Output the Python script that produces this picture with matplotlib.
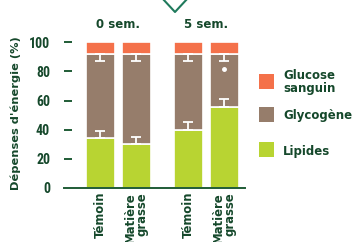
import matplotlib
matplotlib.use('Agg')
import matplotlib.pyplot as plt
from matplotlib.lines import Line2D
from matplotlib.patches import Rectangle
import numpy as np

# data
groups = ['0 sem.', '5 sem.']
bar_labels = ['Témoin', 'Matière\ngrasse', 'Témoin', 'Matière\ngrasse']
series = ['Lipides', 'Glycogène', 'Glucose\nsanguin']
lipides = [34, 30, 40, 55.5]
glycogene = [58, 62, 52, 36.5]
glucose = [8, 8, 8, 8]
err_lipides = [5, 5, 5, 5.5]
err_glycogene = [5, 5, 5, 5]
star_y = [None, None, None, 81.5]
yticks = [0, 20, 40, 60, 80, 100]

colors = ['#b8d432', '#967d6b', '#f4714a']
dark = '#15482b'
axis_col = '#1f5c36'
narrow = ['Roboto Condensed', 'Fira Sans Condensed', 'PT Sans Narrow',
          'Liberation Sans Narrow', 'DejaVu Sans']

plt.rcParams['font.family'] = ['DejaVu Sans']

fig = plt.figure(figsize=(3.55, 2.42), dpi=100)
ax = fig.add_axes([0.18, 0.224, 0.51, 0.613])

x = np.array([0, 1, 2.44, 3.44])
w = 0.81
bottom = np.zeros(4)
for vals, c, name in zip([lipides, glycogene, glucose], colors, series):
    ax.bar(x, vals, w, bottom=bottom, color=c, edgecolor='white', linewidth=1.2, label=name)
    bottom = bottom + np.array(vals)
bot2 = np.array(lipides)
bot3 = bot2 + np.array(glycogene)

# error bars: lipids upward, glycogen downward
ax.errorbar(x, bot2, yerr=[np.zeros(4), err_lipides], fmt='none', ecolor='white',
            elinewidth=1.3, capsize=3.3, capthick=1.3, zorder=5)
ax.errorbar(x, bot3, yerr=[err_glycogene, np.zeros(4)], fmt='none', ecolor='white',
            elinewidth=1.3, capsize=3.3, capthick=1.3, zorder=5)
for xi, sy in zip(x, star_y):
    if sy is not None:
        ax.plot(xi, sy, 'o', color='white', markersize=2.5, zorder=6)

ax.set_xlim(-1.008, 4.015)
ax.set_ylim(0, 102)
ax.set_yticks(yticks)
ax.set_yticklabels([str(v) for v in yticks], family=narrow, fontweight='bold',
                   fontsize=10, color=dark)
ax.tick_params(axis='y', direction='in', length=6, width=1.4, color=axis_col, pad=10)
ax.tick_params(axis='x', length=0, pad=3)
ax.set_xticks(x)
ax.set_xticklabels(bar_labels, rotation=90, fontweight='bold', fontsize=8.4, color=dark,
                   va='top', ha='center', multialignment='right', linespacing=0.85)
for s in ['top', 'right', 'left']:
    ax.spines[s].set_visible(False)
ax.spines['bottom'].set_color(axis_col)
ax.spines['bottom'].set_linewidth(1.4)
ax.yaxis.get_major_ticks()[0].tick1line.set_visible(False)

ax.set_ylabel("Dépenses d'énergie (%)", fontweight='bold', fontsize=8.2, color=dark, labelpad=6)

# group headers
for gx, g in zip([(x[0] + x[1]) / 2, (x[2] + x[3]) / 2], groups):
    ax.text(gx, 1.10, g, transform=ax.get_xaxis_transform(), ha='center', va='center',
            fontweight='bold', fontsize=8.5, color=dark)

# legend, drawn by hand so rows sit like the reference (top to bottom: glucose, glycogen, lipids)
W, H = 355, 242
sq_top = [142, 107, 74]
txt_y = [152, 116, 82.5]
for c, name, top, ty in zip(colors, series, sq_top, txt_y):
    fig.add_artist(Rectangle((259 / W, 1 - (top + 15) / H), 15 / W, 15 / H,
                             facecolor=c, edgecolor='none', transform=fig.transFigure))
    fig.text(283 / W, 1 - ty / H, name, ha='left', va='center', fontweight='bold',
             fontsize=8.5, color=dark, linespacing=1.0)

# chevron decoration at the top
px = [162, 175, 188]
py = [-2, 12, -2]
fig.add_artist(Line2D([v / W for v in px], [1 - v / H for v in py], color='#1f7a5c', lw=1.5))

fig.savefig('out.png', dpi=100)
